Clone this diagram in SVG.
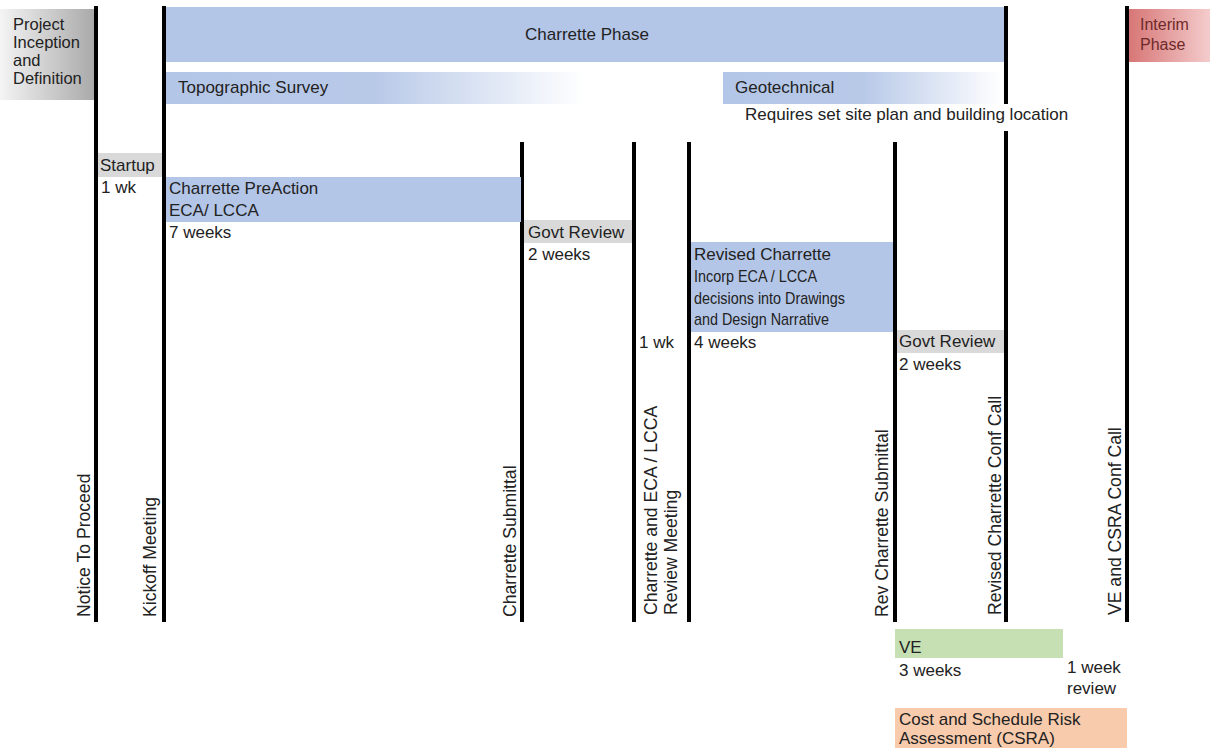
<svg xmlns="http://www.w3.org/2000/svg" width="1210" height="748" viewBox="0 0 1210 748">
<defs>
<linearGradient id="gGray" x1="0" y1="0" x2="1" y2="0">
<stop offset="0" stop-color="#f4f4f4"/><stop offset="1" stop-color="#a9a9a9"/>
</linearGradient>
<linearGradient id="gBlue" x1="0" y1="0" x2="1" y2="0">
<stop offset="0" stop-color="#b4c6e7"/><stop offset="0.5" stop-color="#b8c9e8"/><stop offset="1" stop-color="#ffffff"/>
</linearGradient>
<linearGradient id="gRed" x1="0" y1="0" x2="1" y2="0">
<stop offset="0" stop-color="#d77575"/><stop offset="1" stop-color="#f4cccc"/>
</linearGradient>
</defs>
<style>
text{font-family:"Liberation Sans",Arial,sans-serif;font-size:17px;fill:#222}
.blue{fill:#b4c6e7}
.gray{fill:#d9d9d9}
.ln{stroke:#000;stroke-width:4;fill:none}
.rot{font-size:17.6px}
</style>
<rect width="1210" height="748" fill="#fff"/>

<g id="project-inception">
<rect x="0" y="9" width="95" height="91" fill="url(#gGray)"/>
<text x="13" y="30" style="font-size:16.5px">Project</text>
<text x="13" y="48" style="font-size:16.5px">Inception</text>
<text x="13" y="66" style="font-size:16.5px">and</text>
<text x="13" y="84" style="font-size:16.5px">Definition</text>
</g>

<g id="charrette-phase">
<rect class="blue" x="166" y="7" width="839" height="55"/>
<text x="587" y="40" text-anchor="middle">Charrette Phase</text>
</g>

<g id="interim-phase">
<rect x="1128" y="9" width="82" height="53" fill="url(#gRed)"/>
<text x="1140" y="30" style="fill:#6e2a2a;font-size:16px">Interim</text>
<text x="1140" y="50" style="fill:#6e2a2a;font-size:16px">Phase</text>
</g>

<g id="topographic-survey">
<rect x="163" y="72" width="422" height="32" fill="url(#gBlue)"/>
<text x="178" y="93">Topographic Survey</text>
</g>

<g id="geotechnical">
<rect x="723" y="72" width="280" height="32" fill="url(#gBlue)"/>
<text x="735" y="93">Geotechnical</text>
<text x="745" y="120">Requires set site plan and building location</text>
</g>

<g id="connectors">
<line class="ln" x1="96" y1="6" x2="96" y2="622"/>
<line class="ln" x1="164" y1="6" x2="164" y2="622"/>
<line class="ln" x1="522" y1="142" x2="522" y2="622"/>
<line class="ln" x1="634" y1="142" x2="634" y2="622"/>
<line class="ln" x1="689" y1="142" x2="689" y2="622"/>
<line class="ln" x1="895" y1="142" x2="895" y2="622"/>
<line class="ln" x1="1006" y1="6" x2="1006" y2="104"/>
<line class="ln" x1="1006" y1="131" x2="1006" y2="622"/>
<line class="ln" x1="1127" y1="6" x2="1127" y2="622"/>
</g>

<g id="startup">
<rect class="gray" x="98" y="153" width="64" height="24"/>
<text x="100" y="171">Startup</text>
<text x="101" y="193">1 wk</text>
</g>

<g id="charrette-preaction">
<rect class="blue" x="166" y="177" width="355" height="45"/>
<text x="169" y="194">Charrette PreAction</text>
<text x="169" y="216">ECA/ LCCA</text>
<text x="169" y="238">7 weeks</text>
</g>

<g id="govt-review-1">
<rect class="gray" x="524" y="220" width="108" height="23"/>
<text x="528" y="238">Govt Review</text>
<text x="528" y="260">2 weeks</text>
</g>

<g id="review-meeting-duration">
<text x="639" y="348">1 wk</text>
</g>

<g id="revised-charrette">
<rect class="blue" x="691" y="242" width="202" height="90"/>
<text x="694" y="260">Revised Charrette</text>
<text x="694" y="282" textLength="123" lengthAdjust="spacingAndGlyphs">Incorp ECA / LCCA</text>
<text x="694" y="304" textLength="151" lengthAdjust="spacingAndGlyphs">decisions into Drawings</text>
<text x="694" y="325" textLength="135" lengthAdjust="spacingAndGlyphs">and Design Narrative</text>
<text x="694" y="348">4 weeks</text>
</g>

<g id="govt-review-2">
<rect class="gray" x="897" y="330" width="107" height="23"/>
<text x="899" y="347">Govt Review</text>
<text x="899" y="370">2 weeks</text>
</g>

<g id="ve">
<rect x="895" y="629" width="168" height="29" fill="#c6e0b4"/>
<text x="899" y="653">VE</text>
<text x="899" y="676">3 weeks</text>
<text x="1067" y="673">1 week</text>
<text x="1067" y="694">review</text>
</g>

<g id="csra">
<rect x="895" y="708" width="232" height="40" fill="#f8cbad"/>
<text x="899" y="725">Cost and Schedule Risk</text>
<text x="899" y="744">Assessment (CSRA)</text>
</g>

<g id="milestone-labels">
<text class="rot" transform="translate(90,617) rotate(-90)">Notice To Proceed</text>
<text class="rot" transform="translate(156,617) rotate(-90)">Kickoff Meeting</text>
<text class="rot" transform="translate(516,617) rotate(-90)">Charrette Submittal</text>
<text class="rot" transform="translate(657,615) rotate(-90)">Charrette and ECA / LCCA</text>
<text class="rot" transform="translate(677,615) rotate(-90)">Review Meeting</text>
<text class="rot" transform="translate(888,617) rotate(-90)">Rev Charrette Submittal</text>
<text class="rot" transform="translate(1001,615) rotate(-90)">Revised Charrette Conf Call</text>
<text class="rot" transform="translate(1121,615) rotate(-90)">VE and CSRA Conf Call</text>
</g>
</svg>
